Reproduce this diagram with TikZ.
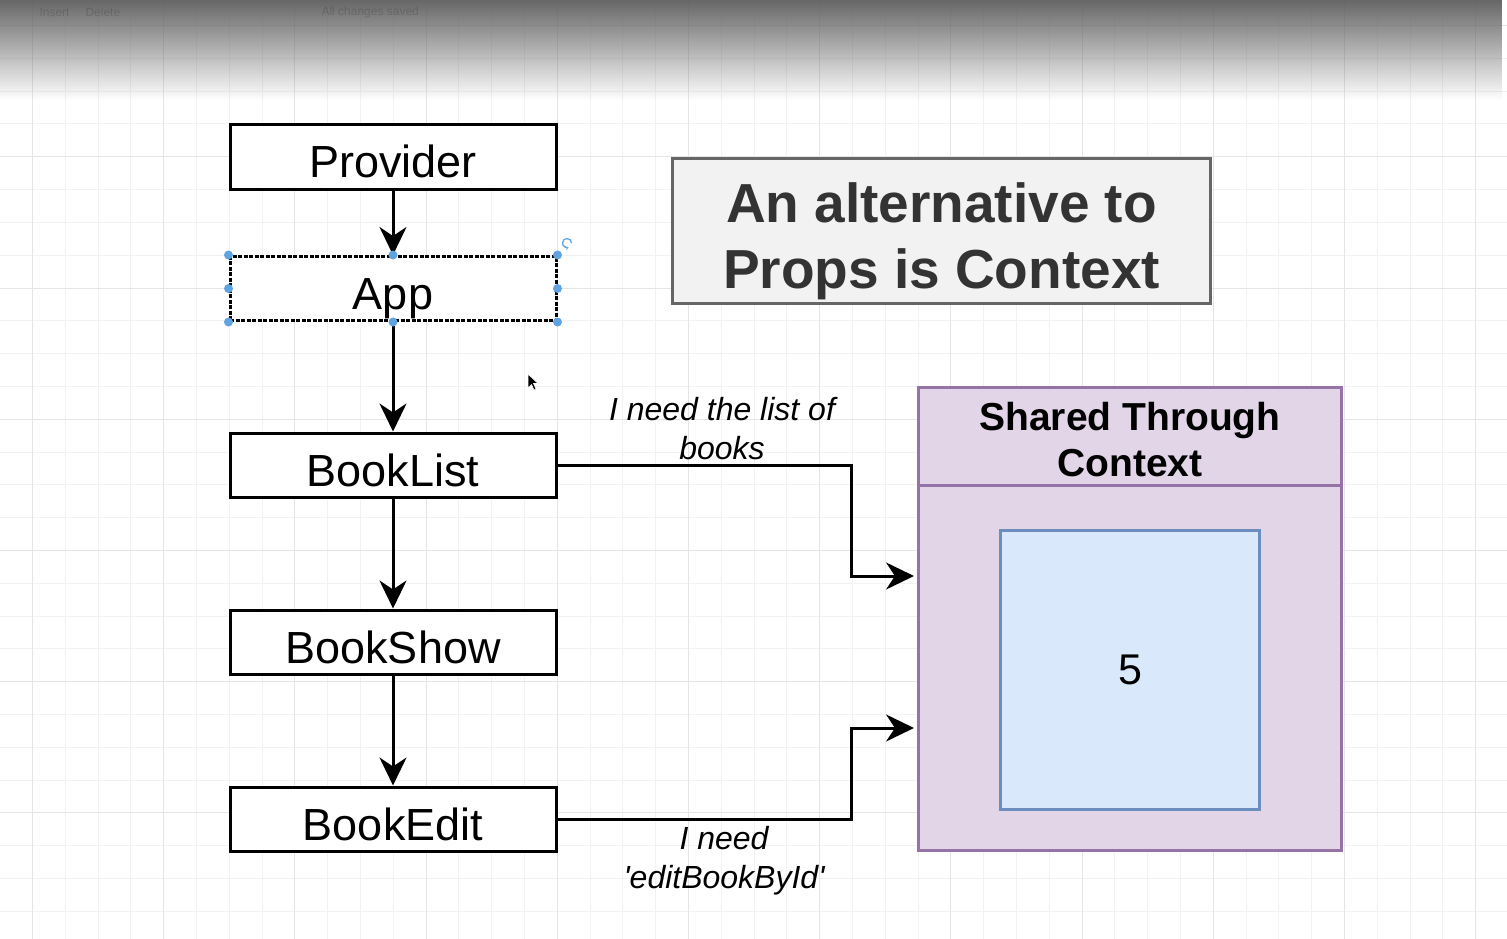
\documentclass[tikz,border=0pt]{standalone}
\usepackage{fontspec}
\setmainfont{Liberation Sans}
\usetikzlibrary{arrows.meta,positioning,fadings}

\definecolor{ctxfill}{HTML}{E1D5E7}
\definecolor{ctxline}{HTML}{9673A6}
\definecolor{valfill}{HTML}{DAE8FC}
\definecolor{valline}{HTML}{6C8EBF}
\definecolor{titlefill}{HTML}{F2F2F2}
\definecolor{titleline}{HTML}{666666}
\definecolor{titletext}{HTML}{333333}
\definecolor{handle}{HTML}{5FA4E0}

\tikzset{
  compbox/.style={draw=black, fill=white, line width=3pt, minimum width=326pt,
    minimum height=64pt, inner sep=0pt, text height=42pt, text depth=0pt,
    font=\fontsize{45}{54}\selectfont},
  flow/.style={line width=3pt, -{Stealth[length=28pt,width=27pt,inset=9pt]}},
  note/.style={align=center, font=\fontsize{32}{39}\selectfont\itshape},
  minorgrid/.style={draw=black!5, line width=1pt},
  majorgrid/.style={draw=black!10, line width=1pt},
}

\begin{document}
\begin{tikzpicture}[x=1pt,y=-1pt]
  \useasboundingbox (0,0) rectangle (1507,939);
  % canvas grid
  \foreach \k in {0,...,45}
    \draw[minorgrid] ({32.5+32.8*\k},0) -- ++(0,939);
  \foreach \k in {-1,...,28}
    \draw[minorgrid] (0,{25.6+32.8*\k}) -- ++(1507,0);
  \foreach \k in {0,...,11}
    \draw[majorgrid] ({32.5+131.2*\k},0) -- ++(0,939);
  \foreach \k in {0,...,7}
    \draw[majorgrid] (0,{25.6+131.2*\k}) -- ++(1507,0);
  % toolbar fading out
  \fill[black!60, path fading=south] (0,0) rectangle (1507,100);
  \begin{scope}[black, opacity=.15, font=\fontsize{12}{14}\selectfont, anchor=west]
    \node (tbinsert) at (36,12) {Insert};
    \node (tbdelete) at (82,12) {Delete};
    \node (tbsaved) at (318,12) {All changes saved};
  \end{scope}

  % component tree
  \node[compbox] (provider) at (393,157) {Provider};
  \node[compbox, dash pattern=on 4pt off 1.5pt] (app) at (393,288.5) {App};
  \node[compbox] (booklist) at (393,465) {BookList};
  \node[compbox] (bookshow) at (393,642) {BookShow};
  \node[compbox] (bookedit) at (393,819) {BookEdit};
  \draw[flow] (provider) -- (app);
  \draw[flow] (app) -- (booklist);
  \draw[flow] (booklist) -- (bookshow);
  \draw[flow] (bookshow) -- (bookedit);

  % selection handles
  \foreach \a in {north west,north,north east,west,east,south west,south,south east}
    \fill[handle] (app.\a) circle (4.5pt);
  \draw[handle, line width=1.3pt, -{Stealth[length=3pt,width=4pt]}]
    ([shift={(14,-12)}]app.north east) arc (0:290:4.5pt);
  % mouse cursor
  \filldraw[fill=black, draw=white, line width=.6pt] (528,374) -- (528,388) -- (531.5,384.5)
    -- (534,390) -- (536,389) -- (533.5,383.5) -- (538,383.5) -- cycle;

  % heading
  \node[draw=titleline, fill=titlefill, line width=3pt, minimum width=538pt,
    minimum height=145pt] (heading) at (941.5,231) {};
  \node[align=center, text=titletext, font=\fontsize{55}{66}\selectfont\bfseries]
    (headtext) at (941.5,241) {An alternative to\\Props is Context};

  % context container
  \node[draw=ctxline, fill=ctxfill, line width=3pt, minimum width=423pt,
    minimum height=463pt] (ctx) at (1130,619) {};
  \coordinate (hdr) at (1130,485);
  \draw[ctxline, line width=3pt] (ctx.west |- hdr) -- (ctx.east |- hdr);
  \node[align=center, font=\fontsize{39}{46}\selectfont\bfseries] (ctxtitle)
    at (1130,440) {Shared Through\\Context};
  \node[draw=valline, fill=valfill, line width=3pt, minimum width=259pt,
    minimum height=279pt, font=\fontsize{43}{50}\selectfont] (val) at (1130,670) {5};

  % consumers
  \coordinate (rowa) at (0,576);
  \coordinate (rowb) at (0,728);
  \coordinate (bend) at (851,0);
  \draw[flow] (booklist.east) -- (booklist.east -| bend) |- ([xshift=-3pt]ctx.west |- rowa);
  \draw[flow] (bookedit.east) -- (bookedit.east -| bend) |- ([xshift=-3pt]ctx.west |- rowb);
  \node[note] (needbooks) at (722,429) {I need the list of\\books};
  \node[note] (neededit) at (724,861) {I need\\\textquotesingle editBookById\textquotesingle};
\end{tikzpicture}
\end{document}
